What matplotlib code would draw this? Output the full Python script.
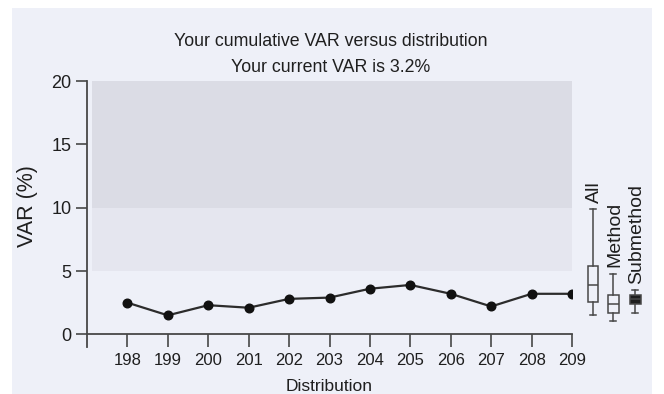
import matplotlib
matplotlib.use("Agg")
import matplotlib.pyplot as plt
from matplotlib.patches import Rectangle

plt.rcParams["font.family"] = ["Liberation Sans", "DejaVu Sans"]

distributions = [198, 199, 200, 201, 202, 203, 204, 205, 206, 207, 208, 209]
var_pct = [2.5, 1.5, 2.3, 2.1, 2.8, 2.9, 3.6, 3.9, 3.2, 2.2, 3.2, 3.2]
current_var = 3.2

# Reference bands (lower, upper) in VAR %
band_outer = (5.0, 20.0)
band_inner = (10.0, 20.0)

# Summary boxes: whisker low, q1, median, q3, whisker high
box_labels = ["All", "Method", "Submethod"]
box_low = [1.5, 1.05, 1.65]
box_q1 = [2.55, 1.7, 2.4]
box_med = [3.9, 2.4, 2.8]
box_q3 = [5.4, 3.1, 3.1]
box_high = [9.9, 4.8, 3.5]
box_filled = [False, False, True]

W, H = 664, 394
BG = "#eef0f8"
INK = "#1f1f1f"
LINE = "#474747"

fig = plt.figure(figsize=(W / 100, H / 100), dpi=100, facecolor="white")
fig.patches.append(Rectangle((12 / W, 0), (652 - 12) / W, 1 - 8 / H,
                             transform=fig.transFigure, facecolor=BG,
                             edgecolor="none", zorder=-10))
ax = fig.add_axes([87 / W, 1 - 347 / H, (572 - 87) / W, (347 - 81) / H])
ax.set_facecolor("none")

ax.set_xlim(197, 209)
ax.set_ylim(-1, 20)

ax.axhspan(band_outer[0], band_outer[1], xmin=0.01, xmax=1.0, color="#e5e6ef", lw=0, zorder=0)
ax.axhspan(band_inner[0], band_inner[1], xmin=0.01, xmax=1.0, color="#dbdce5", lw=0, zorder=0)

ax.plot(distributions, var_pct, color="#2c2c2c", lw=1.6, marker="o",
        markersize=6.2, markerfacecolor="#111111", markeredgecolor="#111111", zorder=3)

# Summary boxes to the right of the plot area
box_x = [209.52, 210.02, 210.56]
for i, lab in enumerate(box_labels):
    st = dict(label=lab, whislo=box_low[i], q1=box_q1[i], med=box_med[i],
              q3=box_q3[i], whishi=box_high[i], fliers=[])
    face = "#1e1e1e" if box_filled[i] else "none"
    art = ax.bxp([st], positions=[box_x[i]], widths=0.27, showfliers=False,
                 patch_artist=True, manage_ticks=False,
                 boxprops=dict(facecolor=face, edgecolor=LINE, lw=1.1),
                 medianprops=dict(color=LINE, lw=1.1),
                 whiskerprops=dict(color=LINE, lw=1.1),
                 capprops=dict(color=LINE, lw=1.1))
    for group in art.values():
        for a in group:
            a.set_clip_on(False)
    ax.text(box_x[i] + 0.04, box_high[i] + 0.5, lab, rotation=90,
            ha="center", va="bottom", fontsize=14, color=INK)

for side in ["top", "right"]:
    ax.spines[side].set_visible(False)
ax.spines["bottom"].set_position(("data", 0))
ax.spines["bottom"].set_bounds(197, 209)
for side in ["left", "bottom"]:
    ax.spines[side].set_color(LINE)
    ax.spines[side].set_linewidth(1.3)

ax.set_xticks(distributions)
ax.set_xticklabels([str(d) for d in distributions])
ax.set_yticks([0, 5, 10, 15, 20])
ax.tick_params(axis="x", direction="out", length=9.5, width=1.2, color=LINE,
               labelsize=12, labelcolor=INK, pad=4)
ax.tick_params(axis="y", direction="out", length=8, width=1.2, color=LINE,
               labelsize=13, labelcolor=INK, pad=3)

ax.set_xlabel("Distribution", fontsize=12.5, color=INK)
ax.xaxis.set_label_coords(0.5, 1 - (386 - 81) / (347 - 81))
ax.xaxis.label.set_va("center")
ax.set_ylabel("VAR (%)", fontsize=15.5, color=INK)
ax.yaxis.set_label_coords((27 - 87) / (572 - 87), (347 - 206) / (347 - 81))
ax.yaxis.label.set_va("center")

fig.text(331 / W, 1 - 42 / H, "Your cumulative VAR versus distribution",
         ha="center", va="center", fontsize=12.8, color=INK)
fig.text(331 / W, 1 - 67 / H, f"Your current VAR is {current_var}%",
         ha="center", va="center", fontsize=12.8, color=INK)

fig.savefig("out.png", dpi=100, facecolor=fig.get_facecolor())
